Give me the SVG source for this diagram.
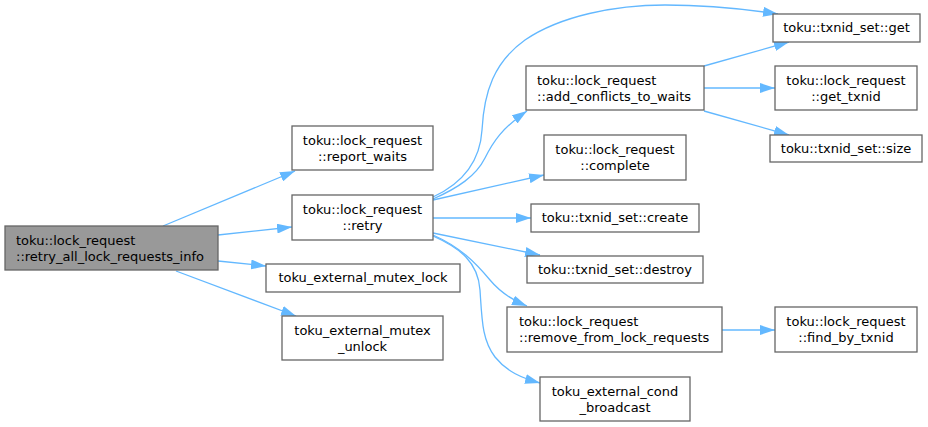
<svg xmlns="http://www.w3.org/2000/svg" width="928" height="427" viewBox="0 0 928 427">
<style>
.n rect{fill:#ffffff;stroke:#666666;stroke-width:1.3}
.n.main rect{fill:#999999}
.n text{font-family:"DejaVu Sans",sans-serif;font-size:13px;fill:#000000}
.c{text-anchor:middle}
.e path{fill:none;stroke:#63b8ff;stroke-width:1.3;marker-end:url(#ah)}
</style>
<defs>
<marker id="ah" viewBox="0 0 15 10" refX="15" refY="5" markerWidth="15" markerHeight="10" markerUnits="userSpaceOnUse" orient="auto">
<path d="M0,0 L15,5 L0,10 z" fill="#63b8ff"/>
</marker>
</defs>
<rect width="928" height="427" fill="#ffffff"/>
<g id="edges" class="e">
<path d="M163,226 L295,171"/>
<path d="M218,235 L292,227"/>
<path d="M218,261 L266,266"/>
<path d="M176,271 L296,316"/>
<path d="M433,197 C461,184 480,164 482,130 C484,92 494,62 525,40 C560,16 615,5 665,5 C705,5 745,9 778,14"/>
<path d="M433,199 C458,188 476,176 485,158 C493,142 502,128 527,111"/>
<path d="M433,200 L544,175"/>
<path d="M433,218 L531,218"/>
<path d="M433,233 L540,255"/>
<path d="M433,235 C460,247 475,262 490,280 C500,292 512,300 527,306"/>
<path d="M433,236 C460,248 478,262 480,290 C482,320 482,340 495,357 C507,372 522,378 540,383"/>
<path d="M704,66 L789,42"/>
<path d="M704,88 L775,88"/>
<path d="M704,111 L789,135"/>
<path d="M722,330 L775,330"/>
</g>
<g id="node_main" class="n main">
<rect x="5" y="226" width="213" height="44"/>
<text x="16" y="244.5">toku::lock_request</text>
<text x="16" y="261">::retry_all_lock_requests_info</text>
</g>
<g id="node_report_waits" class="n">
<rect x="292" y="126" width="141" height="44"/>
<text class="c" x="362.5" y="144.5">toku::lock_request</text>
<text class="c" x="362.5" y="161">::report_waits</text>
</g>
<g id="node_retry" class="n">
<rect x="292" y="195" width="141" height="45"/>
<text class="c" x="362.5" y="213.5">toku::lock_request</text>
<text class="c" x="362.5" y="230">::retry</text>
</g>
<g id="node_mutex_lock" class="n">
<rect x="266" y="264" width="194" height="28"/>
<text class="c" x="363" y="282">toku_external_mutex_lock</text>
</g>
<g id="node_mutex_unlock" class="n">
<rect x="282" y="316" width="161" height="44"/>
<text class="c" x="362.5" y="334.5">toku_external_mutex</text>
<text class="c" x="362.5" y="351">_unlock</text>
</g>
<g id="node_get" class="n">
<rect x="773" y="14" width="147" height="28"/>
<text class="c" x="846.5" y="32">toku::txnid_set::get</text>
</g>
<g id="node_add_conflicts" class="n">
<rect x="526" y="66" width="178" height="44"/>
<text x="537" y="84.5">toku::lock_request</text>
<text x="537" y="101">::add_conflicts_to_waits</text>
</g>
<g id="node_get_txnid" class="n">
<rect x="775" y="66" width="142" height="44"/>
<text class="c" x="846" y="84.5">toku::lock_request</text>
<text class="c" x="846" y="101">::get_txnid</text>
</g>
<g id="node_size" class="n">
<rect x="770" y="135" width="152" height="27"/>
<text class="c" x="846" y="153">toku::txnid_set::size</text>
</g>
<g id="node_complete" class="n">
<rect x="544" y="135" width="142" height="45"/>
<text class="c" x="615" y="153.5">toku::lock_request</text>
<text class="c" x="615" y="170">::complete</text>
</g>
<g id="node_create" class="n">
<rect x="531" y="204" width="168" height="28"/>
<text class="c" x="615" y="222">toku::txnid_set::create</text>
</g>
<g id="node_destroy" class="n">
<rect x="527" y="256" width="176" height="27"/>
<text class="c" x="615" y="274">toku::txnid_set::destroy</text>
</g>
<g id="node_remove" class="n">
<rect x="507" y="307" width="215" height="45"/>
<text x="519" y="325.5">toku::lock_request</text>
<text x="519" y="342">::remove_from_lock_requests</text>
</g>
<g id="node_find_by_txnid" class="n">
<rect x="775" y="307" width="142" height="45"/>
<text class="c" x="846" y="325.5">toku::lock_request</text>
<text class="c" x="846" y="342">::find_by_txnid</text>
</g>
<g id="node_cond_broadcast" class="n">
<rect x="540" y="377" width="150" height="44"/>
<text class="c" x="615" y="395.5">toku_external_cond</text>
<text class="c" x="615" y="412">_broadcast</text>
</g>
</svg>
